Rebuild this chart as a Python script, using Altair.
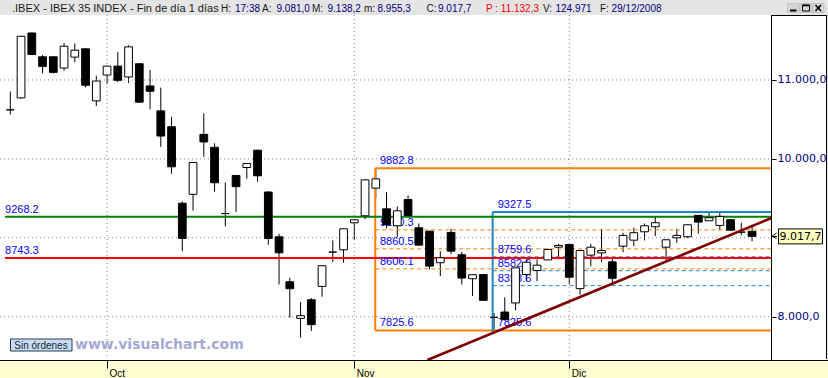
import altair as alt
import pandas as pd

# ---------------- data ----------------
bar_index = list(range(70))
open_ = [10622, 10773, 11596, 11294, 11294, 11151, 11290, 11395, 10735, 11063,
         11176, 11038, 11206, 10924, 10609, 10408, 9438, 9551, 10311, 10147,
         9307, 9790, 9891, 10110, 9580, 9013, 8443, 7979, 8215, 8384,
         8819, 8848, 9190, 9279, 9629, 9367, 9152, 9485, 9127, 9084,
         8684, 9068, 8785, 8481, 8534, 7992, 8059, 8174, 8534, 8585,
         8720, 8881, 8915, 8356, 8780, 8809, 8695, 8894, 8970, 9076,
         9140, 8881, 9000, 9013, 9284, 9216, 9157, 9229, 9072, 9081.0]
high = [10853, 11560, 11600, 11315, 11300, 11470, 11462, 11400, 11055, 11180,
        11357, 11441, 11214, 11126, 10903, 10534, 9459, 9958, 10576, 10198,
        9702, 9795, 9945, 10115, 9593, 9051, 8494, 8186, 8236, 8650,
        8966, 9118, 9232, 9738, 9882.8, 9578, 9397, 9536, 9181, 9088,
        8831, 9114, 8819, 8535, 8540, 8047, 8246, 8622, 8733, 8725,
        8864, 8924, 8918, 8842, 8924, 9114, 8746, 9064, 9127, 9182,
        9263, 8978, 9114, 9168, 9288, 9327.5, 9320, 9235, 9191, 9138.2]
low = [10563, 10765, 11320, 11084, 11084, 11118, 11223, 10908, 10668, 10950,
       10971, 10962, 10710, 10630, 10152, 9811, 8829, 9345, 10026, 9585,
       9144, 9328, 9748, 9711, 8913, 8409, 7988, 7734, 7819, 8253,
       8696, 8684, 8971, 9236, 9506, 9118, 9013, 9280, 8905, 8599,
       8515, 8793, 8409, 8262, 8205, 7825.6, 7960, 8081, 8449, 8449,
       8716, 8725, 8407, 8280, 8640, 8691, 8407, 8818, 8894, 8966,
       9021, 8703, 8936, 8996, 9051, 9213, 9097, 9090, 9030, 8955.3]
close = [10622, 11554, 11323, 11172, 11097, 11428, 11378, 10933, 10987, 11176,
         10996, 11420, 10719, 10857, 10290, 9900, 8992, 9954, 10215, 9698,
         9307, 9648, 9942, 9786, 8992, 8810, 8355, 8013, 7899, 8646,
         8819, 9114, 9228, 9734, 9747, 9165, 9342, 9283, 8907, 8641,
         8747, 8831, 8490, 8532, 8208, 7992, 7962, 8619, 8691, 8653,
         8852, 8903, 8500, 8839, 8881, 8839, 8487, 9030, 9064, 9153,
         9191, 8975, 9030, 9165, 9199, 9254, 9271, 9097, 9072, 9017.7]

month_tick_index = [9, 32, 52]
month_names = ["Oct", "Nov", "Dic"]

support_levels = [9268.2, 8743.3]
support_colors = ["#008000", "#FF0000"]

fib1_start = 33.95
fib1_high, fib1_low = 9882.8, 7825.6
fib1_levels = [9100.3, 8860.5, 8606.1]

fib2_start = 44.87
fib2_high, fib2_low = 9327.5, 7825.6
fib2_levels = [8759.6, 8582.6, 8393.6]

trend_index = [38.80, 70.763]
trend_value = [7451.2, 9248.0]

grid_prices = [8000, 9000, 10000, 11000]
axis_prices = [8000, 10000, 11000]
last_price = 9017.7

header_title = ".IBEX - IBEX 35 INDEX - Fin de día 1 días"
header_parts = ["H:", "17:38", "A:", "9.081,0", "M:", "9.138,2", "m:", "8.955,3",
                "C:", "9.017,7", "P : 11.132,3", "V:", "124.971", "F:", "29/12/2008"]
header_kind = ["k", "v", "k", "v", "k", "v", "k", "v", "k", "v", "r", "k", "v", "k", "v"]
header_x = [221, 235, 262, 276.5, 312, 327.5, 364, 377.5, 426.5, 438, 486, 543, 555.5, 600, 611.5]

# ---------------- layout ----------------
W, H = 771, 345
X_DOM = [-0.958, 70.763]
Y_DOM = [7451.2, 11823.8]
xs = alt.Scale(domain=X_DOM, nice=False, zero=False)
ys = alt.Scale(domain=Y_DOM, nice=False, zero=False)
LBL = "#0000FF"

month_expr = " : ".join(
    [f"datum.value == {t} ? '{n}'" for t, n in zip(month_tick_index, month_names)]) + " : ''"

x_axis = alt.Axis(values=month_tick_index, labelExpr=month_expr, title=None, grid=False,
                  domain=False, ticks=True, tickSize=8, tickColor="black", tickWidth=1,
                  labelFont="Liberation Sans", labelFontSize=10, labelColor="black",
                  labelAlign="left", labelBaseline="top", labelPadding=0, labelOffset=2,
                  labelFlush=False, zindex=2)
y_axis = alt.Axis(orient="right", values=axis_prices, title=None, grid=False,
                  labelExpr="replace(replace(replace(format(datum.value, ',.1f'), ',', '#'), '.', ','), '#', '.')",
                  domainColor="black", domainWidth=1, tickColor="black", tickSize=5,
                  labelFont="DejaVu Sans", labelFontSize=11, labelColor="#000080",
                  labelPadding=1, labelBaseline="middle", zindex=2)


def X(f):
    return alt.X(f, scale=xs, axis=x_axis)


def Y(f):
    return alt.Y(f, scale=ys, axis=y_axis)


candles = pd.DataFrame({"i": bar_index, "o": open_, "h": high, "l": low, "c": close})
candles["fill"] = ["white" if c >= o else "black" for o, c in zip(open_, close)]

one = pd.DataFrame({"k": [0]})


def px_rect(x1, x2, y1, y2, **kw):
    return alt.Chart(one).mark_rect(**kw).encode(
        x=alt.value(x1), x2=alt.value(x2), y=alt.value(y1), y2=alt.value(y2))


def px_rule(x1, x2, y1, y2, **kw):
    return alt.Chart(one).mark_rule(**kw).encode(
        x=alt.value(x1), x2=alt.value(x2), y=alt.value(y1), y2=alt.value(y2))


def px_text(x, y, t, **kw):
    return alt.Chart(one).mark_text(text=t, **kw).encode(x=alt.value(x), y=alt.value(y))


# wicks
wick = alt.Chart(candles).mark_rule(color="black", strokeWidth=1).encode(
    x=X("i:Q"), y=Y("l:Q"), y2="h:Q")

# grid
hgrid = alt.Chart(pd.DataFrame({"p": grid_prices})).mark_rule(
    color="#808080", strokeDash=[1, 3], strokeWidth=1).encode(
    y=Y("p:Q"), x=alt.value(0), x2=alt.value(W))
vgrid = alt.Chart(pd.DataFrame({"m": month_tick_index})).mark_rule(
    color="#808080", strokeDash=[1, 3], strokeWidth=1).encode(
    x=X("m:Q"), y=alt.value(0), y2=alt.value(H - 2))

# fibonacci dashed levels
dash1 = alt.Chart(pd.DataFrame({"y": fib1_levels, "a": fib1_start, "b": X_DOM[1]})).mark_rule(
    color="#FF8000", strokeDash=[4, 3], strokeWidth=1).encode(
    x=X("a:Q"), x2="b:Q", y=Y("y:Q"))
dash2 = alt.Chart(pd.DataFrame({"y": fib2_levels, "a": fib2_start, "b": X_DOM[1]})).mark_rule(
    color="#1A87C9", strokeDash=[4, 3], strokeWidth=1).encode(
    x=X("a:Q"), x2="b:Q", y=Y("y:Q"))

# boxes
box_h = pd.DataFrame({
    "a": [fib2_start, fib1_start, fib1_start],
    "b": [X_DOM[1]] * 3,
    "y": [fib2_high, fib1_high, fib1_low],
    "col": ["#1A87C9", "#FF8000", "#FF8000"]})
boxh = alt.Chart(box_h).mark_rule(strokeWidth=2).encode(
    x=X("a:Q"), x2="b:Q", y=Y("y:Q"), color=alt.Color("col:N", scale=None))
box_v = pd.DataFrame({
    "x": [fib2_start, fib1_start],
    "lo": [fib2_low - 15, fib1_low],
    "hi": [fib2_high, fib1_high],
    "col": ["#1A87C9", "#FF8000"]})
boxv = alt.Chart(box_v).mark_rule(strokeWidth=2).encode(
    x=X("x:Q"), y=Y("lo:Q"), y2="hi:Q", color=alt.Color("col:N", scale=None))

# support / resistance lines
sup = alt.Chart(pd.DataFrame({"y": support_levels, "col": support_colors,
                              "a": -0.49, "b": X_DOM[1]})).mark_rule(strokeWidth=2).encode(
    x=X("a:Q"), x2="b:Q", y=Y("y:Q"), color=alt.Color("col:N", scale=None))

# level labels
lab_vals = support_levels + [fib1_high] + fib1_levels + [fib1_low] + [fib2_high] + fib2_levels + [fib2_low]
lab_x = [-0.49] * 2 + [34.39] * 5 + [45.34] * 5
labels = pd.DataFrame({"y": lab_vals, "x": lab_x, "t": [f"{v:.1f}" for v in lab_vals]})
labs = alt.Chart(labels).mark_text(align="left", baseline="alphabetic", dy=-4, color=LBL,
                                   font="Liberation Sans", fontSize=11).encode(
    x=X("x:Q"), y=Y("y:Q"), text="t:N")

body = alt.Chart(candles).transform_calculate(
    xl="datum.i - 0.36", xr="datum.i + 0.36").mark_rect(stroke="black", strokeWidth=1).encode(
    x=X("xl:Q"), x2="xr:Q", y=Y("o:Q"), y2="c:Q",
    fill=alt.Fill("fill:N", scale=None))

trend = alt.Chart(pd.DataFrame({"ti": trend_index, "tv": trend_value})).mark_line(
    color="#7F0000", strokeWidth=2.6).encode(x=X("ti:Q"), y=Y("tv:Q"))

# ---------- decorations ----------
deco = []
deco.append(px_rect(0, 828, -15, 0, fill="#E4E4E4"))
deco.append(px_text(12, -6.5, header_title, align="left", baseline="middle",
                    font="Liberation Sans", fontSize=11, color="#1A1A1A"))
kind_col = {"k": "#1A1A1A", "v": "#00007F", "r": "#FF0000"}
for t, xx, k in zip(header_parts, header_x, header_kind):
    deco.append(px_text(xx, -6.5, t, align="left", baseline="middle",
                        font="Liberation Sans", fontSize=10, color=kind_col[k]))
# window buttons
for bx in [787.5, 800, 812.5]:
    deco.append(px_rect(bx, bx + 11.5, -11.5, -2.5, fill="#D6D6D6", stroke="#A8A8A8", strokeWidth=0.5))
deco.append(px_rule(790, 796.5, -4.5, -4.5, color="black", strokeWidth=2))
deco.append(px_rect(802.5, 809.5, -10, -4, fill="#D6D6D6", stroke="black", strokeWidth=1))
deco.append(px_rule(802.5, 809.5, -9.5, -9.5, color="black", strokeWidth=1.5))
deco.append(px_rule(815.5, 821, -10, -4, color="black", strokeWidth=1.5))
deco.append(px_rule(815.5, 821, -4, -10, color="black", strokeWidth=1.5))
# right panel borders
deco.append(px_rule(W, 826.5, 0.5, 0.5, color="black", strokeWidth=1))
deco.append(px_rule(826.5, 826.5, 0, 344, color="black", strokeWidth=1))
deco.append(px_rect(827, 828, 0, 344, fill="#E4E4E4"))
# last price marker
price_y = (Y_DOM[1] - last_price) / (Y_DOM[1] - Y_DOM[0]) * H
deco.append(px_rect(778.5, 822.5, price_y - 7.5, price_y + 7.5, fill="#FFFFC0", stroke="black", strokeWidth=1))
deco.append(px_text(800.5, price_y + 0.5, "9.017,7", align="center", baseline="middle",
                    font="DejaVu Sans", fontSize=11, color="black"))
deco.append(px_rule(772, 776.5, price_y, price_y - 3.5, color="black", strokeWidth=1))
deco.append(px_rule(772, 776.5, price_y, price_y + 2, color="black", strokeWidth=1))
deco.append(px_rule(772, 777, price_y, price_y, color="black", strokeWidth=1))
# bottom band
deco.append(px_rect(0, 828, 345, 363, fill="#FFFFD2"))
deco.append(px_rule(0, 828, 345.5, 345.5, color="black", strokeWidth=1))
# button / watermark
deco.append(px_rect(10.5, 72, 324, 336, fill="#C9DDEE", stroke="#1E3A5A", strokeWidth=1))
deco.append(px_text(41, 330.5, "Sin órdenes", align="center", baseline="middle",
                    font="Liberation Sans", fontSize=10, color="#10243A"))
deco.append(px_text(75, 329.5, "www.visualchart.com", align="left", baseline="middle",
                    font="DejaVu Sans", fontSize=14, fontWeight="bold", color="#A3A9D6"))

chart = alt.layer(
    wick, hgrid, vgrid, dash1, dash2, boxh, boxv, sup, labs, body, trend,
    *deco
).properties(
    width=W, height=H, autosize="none",
    padding={"left": 0, "top": 15, "right": 57, "bottom": 18},
    background="white"
).configure_view(stroke=None)

chart.save("out.html", embed_options={"renderer": "svg", "actions": False})
